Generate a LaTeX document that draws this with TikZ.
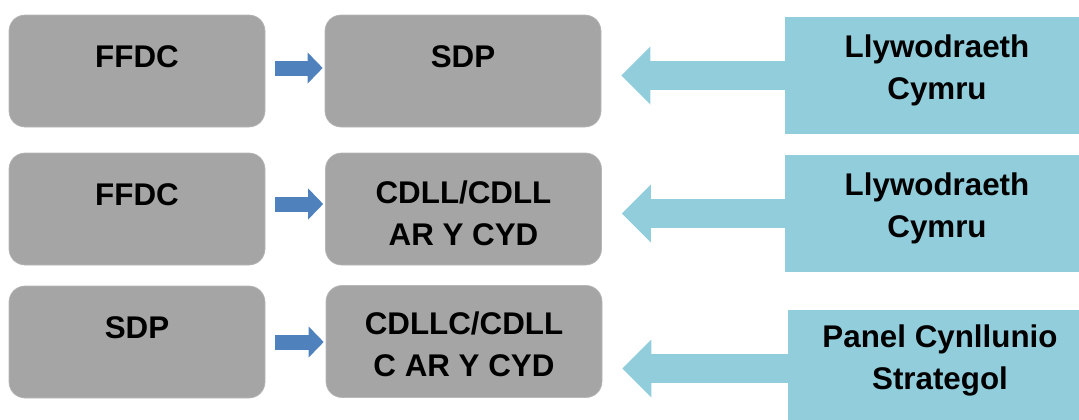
\documentclass[tikz,border=0pt]{standalone}
\usepackage{fontspec}
\setmainfont{Liberation Sans}
\usetikzlibrary{arrows.meta}
\definecolor{boxgrey}{HTML}{A5A5A5}
\definecolor{stepblue}{HTML}{4F81BD}
\definecolor{govblue}{HTML}{92CDDC}
\tikzset{every picture/.style={line width=0.75pt}}

\begin{document}
\begin{tikzpicture}[x=0.75pt,y=0.75pt,yscale=-1,xscale=1,
    greybox/.style={fill=boxgrey, draw=boxgrey!80!white, line width=0.5pt, rounded corners=12pt, minimum height=84pt, inner sep=0pt},
    leftbox/.style={greybox, minimum width=192pt},
    midbox/.style={greybox, minimum width=207pt},
    govbox/.style={fill=govblue, minimum width=228pt, minimum height=87.75pt, inner sep=0pt},
    boxtext/.style={font=\bfseries\fontsize{23.5}{31.5}\selectfont, align=center, inner sep=0pt},
    stepline/.style={draw=stepblue, line width=11.25pt, -{Triangle[length=11.25pt,width=23.25pt,line width=0pt]}, shorten <=7.5pt, shorten >=1.5pt},
    govline/.style={draw=govblue, line width=21.75pt, -{Triangle[length=21.75pt,width=43.5pt,line width=0pt]}, shorten >=15pt}]
        \useasboundingbox (0,0) rectangle (1079,419);

        %Row 1
        \node[leftbox] (ffdcA) at (137,71) {};
        \node[midbox] (sdpA) at (463,71) {};
        \node[govbox] (govA) at (937,75.5) {};
        \node[boxtext] (ffdcAtext) at (137,57) {FFDC};
        \node[boxtext] (sdpAtext) at (463,57) {SDP};
        \node[boxtext] (govAtext) at (937,70) {Llywodraeth\\Cymru};
        \draw[stepline] ([yshift=-2.25pt]ffdcA.east) -- ([yshift=-2.25pt]ffdcA.east -| sdpA.west);
        \draw[govline] (govA.west) -- (govA.west -| sdpA.east);

        %Row 2
        \node[leftbox] (ffdcB) at (137,209) {};
        \node[midbox] (cdllB) at (463.5,209) {};
        \node[govbox] (govB) at (937,213.5) {};
        \node[boxtext] (ffdcBtext) at (137,195) {FFDC};
        \node[boxtext] (cdllBtext) at (463.5,213.5) {CDLL/CDLL\\AR Y CYD};
        \node[boxtext] (govBtext) at (937,208.5) {Llywodraeth\\Cymru};
        \draw[stepline] ([yshift=-3.75pt]ffdcB.east) -- ([yshift=-3.75pt]ffdcB.east -| cdllB.west);
        \draw[govline] (govB.west) -- (govB.west -| cdllB.east);

        %Row 3
        \node[leftbox] (sdpC) at (137,342) {};
        \node[midbox] (cdllcC) at (464,341.5) {};
        \node[govbox] (panelC) at (940,368.5) {};
        \node[boxtext] (sdpCtext) at (137,328) {SDP};
        \node[boxtext] (cdllcCtext) at (464,344) {CDLLC/CDLL\\C AR Y CYD};
        \node[boxtext] (panelCtext) at (940,360) {Panel Cynllunio\\Strategol};
        \draw[stepline] (sdpC.east) -- (sdpC.east -| cdllcC.west);
        \draw[govline] (panelC.west) -- (panelC.west -| cdllcC.east);

\end{tikzpicture}
\end{document}
